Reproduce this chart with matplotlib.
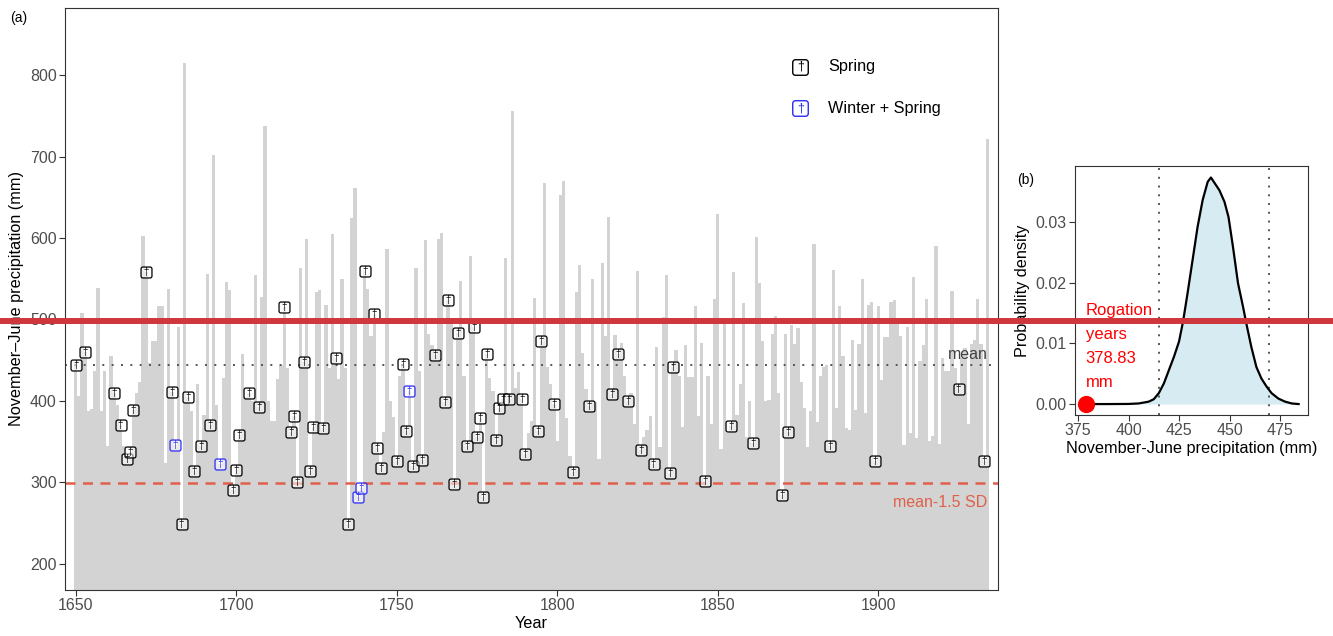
import numpy as np
import matplotlib.pyplot as plt
from matplotlib.path import Path
from matplotlib.lines import Line2D

plt.rcParams['font.family'] = ['Liberation Sans', 'DejaVu Sans']

# ── Data ──────────────────────────────────────────────────────
years = np.arange(1650, 1935)
precip = [
    444, 406, 508, 460, 388, 390, 436, 538, 388, 437,   # 1650s
    345, 455, 410, 395, 370, 345, 328, 337, 389, 410,   # 1660s
    423, 603, 558, 446, 474, 474, 517, 517, 324, 537,   # 1670s
    411, 346, 490, 248, 815, 405, 387, 314, 421, 344,   # 1680s
    383, 556, 370, 702, 395, 322, 428, 546, 536, 290,   # 1690s
    315, 358, 457, 405, 409, 400, 554, 392, 528, 737,   # 1700s
    400, 375, 375, 427, 444, 515, 440, 362, 381, 300,   # 1710s
    563, 448, 599, 314, 368, 534, 536, 367, 518, 440,   # 1720s
    605, 453, 427, 550, 440, 249, 624, 661, 282, 293,   # 1730s
    560, 537, 480, 507, 342, 317, 362, 586, 400, 380,   # 1740s
    326, 431, 445, 363, 412, 320, 563, 436, 327, 598,   # 1750s
    482, 469, 456, 599, 606, 398, 524, 495, 298, 483,   # 1760s
    547, 430, 345, 578, 490, 355, 379, 282, 458, 428,   # 1770s
    412, 352, 391, 402, 575, 402, 756, 416, 435, 402,   # 1780s
    335, 360, 375, 526, 363, 474, 668, 442, 420, 396,   # 1790s
    351, 653, 670, 379, 332, 312, 534, 567, 459, 414,   # 1800s
    394, 550, 398, 328, 569, 480, 626, 408, 481, 457,   # 1810s
    471, 430, 400, 410, 372, 559, 339, 355, 364, 381,   # 1820s
    322, 466, 343, 503, 554, 311, 442, 462, 430, 368,   # 1830s
    469, 429, 429, 517, 381, 471, 302, 430, 372, 525,   # 1840s
    629, 341, 495, 360, 369, 558, 383, 420, 520, 355,   # 1850s
    400, 348, 601, 545, 474, 400, 401, 482, 504, 410,   # 1860s
    284, 482, 362, 493, 470, 489, 423, 391, 343, 387,   # 1870s
    593, 374, 431, 442, 444, 345, 561, 391, 516, 455,   # 1880s
    366, 364, 475, 389, 470, 549, 385, 518, 521, 326,   # 1890s
    516, 425, 478, 478, 521, 524, 500, 480, 346, 490,   # 1900s
    360, 552, 354, 449, 468, 525, 351, 357, 590, 347,   # 1910s
    452, 437, 437, 535, 440, 415, 452, 465, 372, 470,   # 1920s
    475, 525, 470, 326, 722,                            # 1930s
]

spring_years = [1650, 1653, 1662, 1664, 1666, 1667, 1668, 1672, 1680, 1683,
                1685, 1687, 1689, 1692, 1699, 1700, 1701, 1704, 1707, 1715,
                1717, 1718, 1719, 1721, 1723, 1724, 1727, 1731, 1735, 1740,
                1743, 1744, 1745, 1750, 1752, 1753, 1755, 1758, 1762, 1765,
                1766, 1768, 1769, 1772, 1774, 1775, 1776, 1777, 1778, 1781,
                1782, 1783, 1785, 1789, 1790, 1794, 1795, 1799, 1805, 1810,
                1817, 1819, 1822, 1826, 1830, 1835, 1836, 1846, 1854, 1861,
                1870, 1872, 1885, 1899, 1925, 1933]
winter_spring_years = [1681, 1695, 1738, 1739, 1754]

mean_precip = 444.5
low_precip = 298.5   # mean - 1.5 SD

# panel (b): density of November-June precipitation
dens_x = [378.83, 390, 400, 405, 410, 412.5, 415, 417.5, 420, 422.5, 425, 427,
          429.2, 431.7, 434.2, 436.7, 439.2, 440.8, 442.8, 445, 447.5, 449.5,
          451.7, 454.2, 456.7, 458.3, 460.8, 463.3, 465.8, 468.3, 470.8, 474.2,
          477.5, 480.8, 484.2]
dens_y = [0.0, 0.0, 0.00002, 0.0001, 0.0004, 0.0008, 0.0018, 0.0034, 0.0056,
          0.0078, 0.0103, 0.0136, 0.0182, 0.0237, 0.0292, 0.0336, 0.0366,
          0.0373, 0.0363, 0.0352, 0.0333, 0.0308, 0.0259, 0.0199, 0.0160,
          0.0133, 0.0094, 0.0061, 0.0042, 0.0029, 0.0018, 0.0009, 0.0004,
          0.0001, 0.0]
interval_lo, interval_hi = 415, 469.5
rogation_value = 378.83

# ── Rounded square marker ─────────────────────────────────────
r = 0.35
box_verts = [(-1 + r, -1), (1 - r, -1), (1, -1), (1, -1 + r),
             (1, 1 - r), (1, 1), (1 - r, 1), (-1 + r, 1),
             (-1, 1), (-1, 1 - r), (-1, -1 + r), (-1, -1), (-1 + r, -1), (-1 + r, -1)]
box_codes = [Path.MOVETO, Path.LINETO, Path.CURVE3, Path.CURVE3, Path.LINETO,
             Path.CURVE3, Path.CURVE3, Path.LINETO, Path.CURVE3, Path.CURVE3,
             Path.LINETO, Path.CURVE3, Path.CURVE3, Path.CLOSEPOLY]
box = Path(box_verts, box_codes)

tick_col = '#4D4D4D'
frame_col = '#333333'
red_dash = '#E0604A'

fig = plt.figure(figsize=(13.33, 6.36), dpi=100)

# ── Panel (a) ─────────────────────────────────────────────────
ax = fig.add_axes([65 / 1333, 46 / 636, 933 / 1333, 582 / 636])
ax.bar(years, precip, width=1.0, color='#D3D3D3', linewidth=0, zorder=1)
ax.axhline(mean_precip, color='#555555', lw=1.4, ls=(0, (1, 3.8)), zorder=2)
ax.axhline(low_precip, color=red_dash, lw=1.8, ls=(0, (4, 3)), zorder=2)

lookup = dict(zip(years, precip))
for yrs, col in [(spring_years, 'black'), (winter_spring_years, '#2B2BF5')]:
    vals = [lookup[y] for y in yrs]
    ax.scatter(yrs, vals, marker=box, s=62, facecolor=(1, 1, 1, 0.55),
               edgecolor=col, linewidth=0.9, zorder=3)
    for y, v in zip(yrs, vals):
        ax.text(y, v, '\u2020', fontsize=7, ha='center', va='center',
                color=col, zorder=4)

ax.text(1934, mean_precip + 3, 'mean', ha='right', va='bottom',
        fontsize=11.5, color='#404040')
ax.text(1934, 275, 'mean-1.5 SD', ha='right', va='center',
        fontsize=11.5, color=red_dash)

# legend
for yy, col, lab in [(0.899, 'black', 'Spring'), (0.828, '#2B2BF5', 'Winter + Spring')]:
    ax.scatter([0.788], [yy], transform=ax.transAxes, marker=box, s=125,
               facecolor='white', edgecolor=col, linewidth=1.0, clip_on=False, zorder=5)
    ax.text(0.788, yy, '\u2020', transform=ax.transAxes, fontsize=9,
            ha='center', va='center', color=col, zorder=6)
    ax.text(0.818, yy, lab, transform=ax.transAxes, fontsize=11.7,
            ha='left', va='center', color='black')

ax.set_xlim(1646.7, 1937.3)
ax.set_ylim(167.5, 882.5)
ax.set_xticks([1650, 1700, 1750, 1800, 1850, 1900])
ax.set_yticks([200, 300, 400, 500, 600, 700, 800])
ax.set_xlabel('Year', fontsize=11.7, labelpad=2)
ax.set_ylabel('November\u2013June precipitation (mm)', fontsize=11.7, labelpad=4)
ax.tick_params(length=4, color=frame_col, labelcolor=tick_col, labelsize=11.5, pad=2)
for s in ax.spines.values():
    s.set_color(frame_col)
    s.set_linewidth(0.8)

# ── Panel (b) ─────────────────────────────────────────────────
ax2 = fig.add_axes([1075 / 1333, 221 / 636, 232.7 / 1333, 249 / 636])
ax2.fill_between(dens_x, dens_y, color='#D6EBF2', lw=0, zorder=1)
ax2.plot(dens_x, dens_y, color='black', lw=1.6, zorder=3)
for xv in (interval_lo, interval_hi):
    ax2.axvline(xv, color='#555555', lw=1.4, ls=(0, (1, 3.5)), zorder=2)
ax2.scatter([rogation_value], [0], s=130, color='#FF0000', zorder=4, clip_on=False)
ax2.text(rogation_value, 0.0094, 'Rogation\nyears\n%.2f\nmm' % rogation_value,
         ha='left', va='center', fontsize=12, color='#FF0000', linespacing=1.75)

ax2.set_xlim(373.5, 488.7)
ax2.set_ylim(-0.0018, 0.0392)
ax2.set_xticks([375, 400, 425, 450, 475])
ax2.set_yticks([0.0, 0.01, 0.02, 0.03])
ax2.set_yticklabels(['0.00', '0.01', '0.02', '0.03'])
ax2.set_xlabel('November-June precipitation (mm)', fontsize=11.7, labelpad=2)
ax2.set_ylabel('Probability density', fontsize=11.7, labelpad=4)
ax2.tick_params(length=4, color=frame_col, labelcolor=tick_col, labelsize=11.5, pad=2)
for s in ax2.spines.values():
    s.set_color(frame_col)
    s.set_linewidth(0.8)

fig.text(10 / 1333, 1 - 18 / 636, '(a)', fontsize=10, ha='left', va='center')
fig.text(1017 / 1333, 1 - 180 / 636, '(b)', fontsize=10, ha='left', va='center')

# red reference line across the whole figure
fig.add_artist(Line2D([0, 1], [1 - 321 / 636] * 2, transform=fig.transFigure,
                      color='#D0363D', lw=4.3, zorder=10))

fig.savefig('out.png', dpi=100)
